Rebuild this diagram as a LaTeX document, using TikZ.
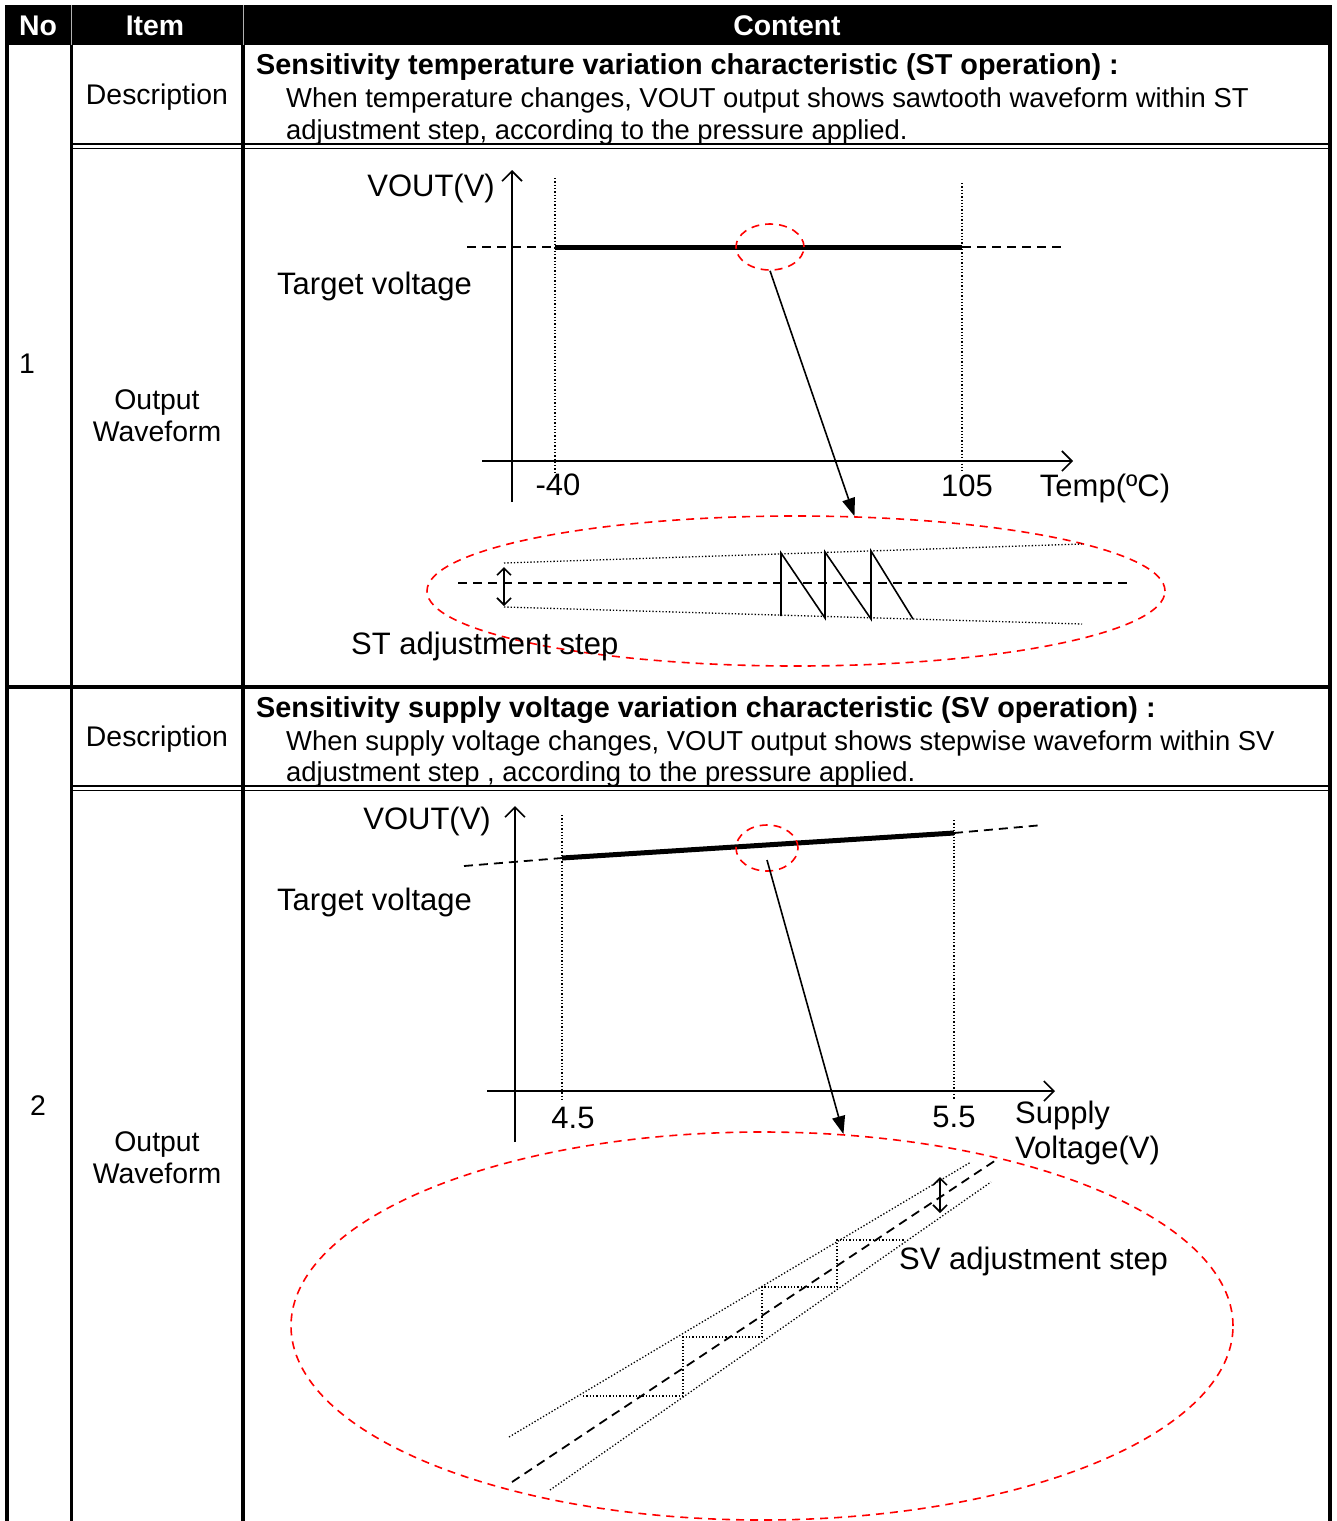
\documentclass[tikz,border=0pt]{standalone}
\usepackage{fontspec}
\setmainfont{Liberation Sans}
\usetikzlibrary{arrows.meta,shapes.geometric}
\begin{document}
\begin{tikzpicture}[x=1pt,y=-1pt,
  txt/.style={font=\fontsize{28.4}{34}\selectfont, inner sep=0pt},
  body/.style={font=\fontsize{27.4}{33}\selectfont, inner sep=0pt},
  btxt/.style={font=\fontsize{28.8}{34}\selectfont\bfseries, inner sep=0pt},
  lbl/.style={font=\fontsize{31}{37}\selectfont, inner sep=0pt},
  hdr/.style={font=\fontsize{28.4}{34}\selectfont\bfseries, text=white, inner sep=0pt},
  gridln/.style={line width=4pt},
  dblln/.style={line width=1.5pt},
  axisln/.style={line width=1.6pt, -{Straight Barb[length=10pt,width=20pt,line width=1.6pt]}},
  dotln/.style={line width=1.3pt, dash pattern=on 1.3pt off 2pt},
  dashln/.style={line width=1.8pt, dash pattern=on 9pt off 6pt},
  boldln/.style={line width=5pt},
  ptr/.style={line width=1.6pt, -{Triangle[length=18pt,width=13pt]}},
  dblarrow/.style={line width=1.6pt, {Straight Barb[length=7pt,width=14pt,line width=1.6pt]}-{Straight Barb[length=7pt,width=14pt,line width=1.6pt]}},
  redell/.style={draw=red, dash pattern=on 8pt off 6pt, line width=1.6pt, ellipse, inner sep=0pt},
  waveln/.style={line width=1.6pt, line join=miter}
]
\useasboundingbox (0,0) rectangle (1337,1521);

% ---------- table ----------
\fill (7,5) rectangle (1331,45);
\draw[gray!60, line width=0.8pt] (71.5,5) -- (71.5,45) (243,5) -- (243,45);
\node[hdr] (hNo) at (38,26) {No};
\node[hdr] (hItem) at (155,26) {Item};
\node[hdr] (hContent) at (787,26) {Content};

\draw[gridln] (7,5) -- (7,1521);
\draw[line width=3.5pt] (71.5,45) -- (71.5,1521);
\draw[gridln] (243,45) -- (243,1521);
\draw[line width=3.5pt] (1330,5) -- (1330,1521);
\draw[gridln] (7,686.5) -- (1331,686.5);
\draw[dblln] (71,144) -- (1330,144) (71,148.5) -- (1330,148.5);
\draw[dblln] (71,786) -- (1330,786) (71,790.5) -- (1330,790.5);

% ---------- row 1 texts ----------
\node[txt] (n1) at (27,364) {1};
\node[txt] (d1) at (157,97) {Description};
\node[txt, align=center] (o1) at (157,416) {Output\\[-2pt]Waveform};
\node[btxt, anchor=base west] (t1a) at (256,74) {Sensitivity temperature variation characteristic (ST operation) :};
\node[body, anchor=base west] (t1b) at (286,107) {When temperature changes, VOUT output shows sawtooth waveform within ST};
\node[body, anchor=base west] (t1c) at (286,139) {adjustment step, according to the pressure applied.};

% ---------- chart 1 ----------
\draw[axisln] (512,502) -- (512,170);
\draw[axisln] (482,461) -- (1073,461);
\draw[dotln] (555,178) -- (555,472);
\draw[dotln] (962,183) -- (962,472);
\draw[dashln] (467,247) -- (555,247);
\draw[dashln] (962,247) -- (1062,247);
\draw[boldln] (555,247) -- (962,247);
\node[redell, minimum width=68, minimum height=46] (e1) at (770,247) {};
\node[redell, minimum width=738, minimum height=150] (E1) at (796,591) {};
\draw[ptr] (e1.south) -- (E1.52);

\node[lbl, anchor=base east] (v1) at (495,196) {VOUT(V)};
\node[lbl, anchor=base west] (tv1) at (277,294) {Target voltage};
\node[lbl, anchor=base] (m40) at (558,495) {-40};
\node[lbl, anchor=base] (p105) at (967,496) {105};
\node[lbl, anchor=base] (temp) at (1105,496) {Temp(ºC)};

\draw[dotln] (504,563) -- (1082,544);
\draw[dotln] (504,607) -- (1082,624);
\draw[dashln] (458,583) -- (1132,583);
\draw[dblarrow] (504,567) -- (504,606);
\draw[waveln] (781,616) -- (781,553) -- (825,618) -- (825,552) -- (871,619) -- (871,551) -- (913,619);
\node[lbl, anchor=base west] (st) at (351,654) {ST adjustment step};

% ---------- row 2 texts ----------
\node[txt] (n2) at (38,1106) {2};
\node[txt] (d2) at (157,739) {Description};
\node[txt, align=center] (o2) at (157,1158) {Output\\[-2pt]Waveform};
\node[btxt, anchor=base west] (t2a) at (256,717) {Sensitivity supply voltage variation characteristic (SV operation) :};
\node[body, anchor=base west] (t2b) at (286,750) {When supply voltage changes, VOUT output shows stepwise waveform within SV};
\node[body, anchor=base west] (t2c) at (286,781) {adjustment step , according to the pressure applied.};

% ---------- chart 2 ----------
\draw[axisln] (515,1142) -- (515,806);
\draw[axisln] (487,1091) -- (1055,1091);
\draw[dotln] (562,815) -- (562,1100);
\draw[dotln] (954,820) -- (954,1100);
\draw[dashln] (464,866) -- (562,858);
\draw[dashln] (954,833) -- (1043,825);
\draw[boldln] (562,858) -- (954,833);
\node[redell, minimum width=62, minimum height=46] (e2) at (767,848) {};
\node[redell, minimum width=942, minimum height=388] (E2) at (762,1326) {};
\coordinate (a2) at (767,860);
\draw[ptr] (a2) -- (E2.67);

\node[lbl, anchor=base east] (v2) at (491,829) {VOUT(V)};
\node[lbl, anchor=base west] (tv2) at (277,910) {Target voltage};
\node[lbl, anchor=base] (x45) at (573,1128) {4.5};
\node[lbl, anchor=base] (x55) at (954,1127) {5.5};
\node[lbl, anchor=base west] (sup) at (1015,1123) {Supply};
\node[lbl, anchor=base west] (volt) at (1015,1158) {Voltage(V)};

\draw[dotln] (509,1437) -- (971,1162);
\draw[dashln] (512,1482) -- (999,1158);
\draw[dotln] (550,1490) -- (991,1182);
\draw[dblarrow] (940,1177) -- (940,1213);
\draw[dotln] (583,1396) -- (683,1396) -- (683,1337) -- (762,1337) -- (762,1287) -- (837,1287) -- (837,1240) -- (904,1240);
\node[lbl, anchor=base west] (sv) at (899,1269) {SV adjustment step};
\end{tikzpicture}
\end{document}
